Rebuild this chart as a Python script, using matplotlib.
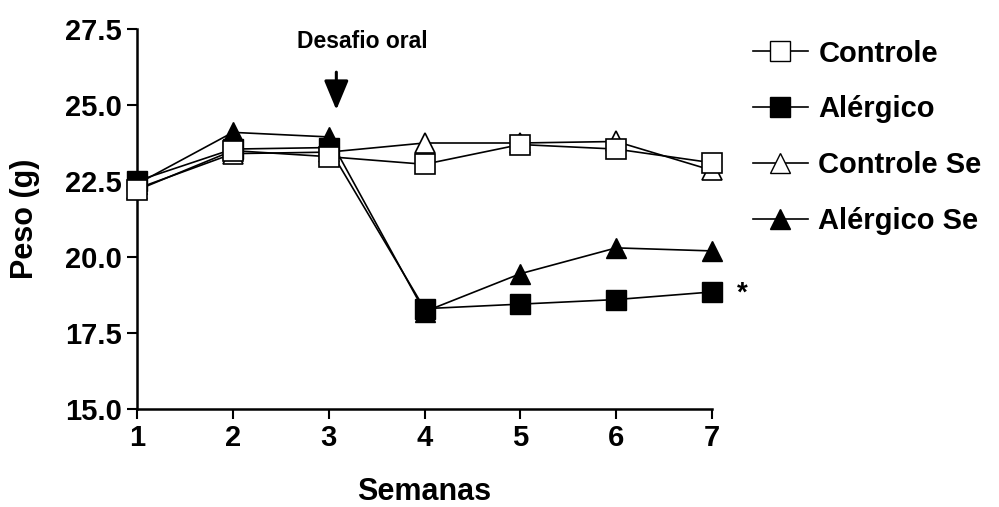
import matplotlib
matplotlib.use("Agg")
import matplotlib.pyplot as plt
from matplotlib.lines import Line2D

weeks = [1, 2, 3, 4, 5, 6, 7]
controle = [22.2, 23.5, 23.3, 23.05, 23.7, 23.55, 23.1]
alergico = [22.5, 23.55, 23.6, 18.3, 18.45, 18.6, 18.85]
controle_se = [22.25, 23.4, 23.45, 23.75, 23.75, 23.8, 22.85]
alergico_se = [22.4, 24.1, 23.95, 18.2, 19.45, 20.3, 20.2]
yticks = [15.0, 17.5, 20.0, 22.5, 25.0, 27.5]

plt.rcParams['font.family'] = ['Liberation Sans', 'DejaVu Sans']
plt.rcParams['font.weight'] = 'bold'

fig = plt.figure(figsize=(9.99, 5.07), dpi=100)
ax = fig.add_axes([137/999, 1-409/507, (712-137)/999, (409-29)/507])

ms = 14
lw = 1.2
kw = dict(clip_on=False)
ax.plot(weeks, controle_se, color='black', lw=lw, marker='^', ms=ms+1, mfc='white', mec='black', mew=1.2, zorder=3, **kw)
ax.plot(weeks, alergico_se, color='black', lw=lw, marker='^', ms=ms+1, mfc='black', mec='black', zorder=4, **kw)
ax.plot(weeks, alergico, color='black', lw=lw, marker='s', ms=ms, mfc='black', mec='black', zorder=5, **kw)
ax.plot(weeks, controle, color='black', lw=lw, marker='s', ms=ms, mfc='white', mec='black', mew=1.2, zorder=6, **kw)

ax.set_xlim(1, 7)
ax.set_ylim(15, 27.5)
ax.set_xticks(weeks)
ax.set_yticks(yticks)
ax.set_yticklabels([f"{v:.1f}" for v in yticks])
ax.tick_params(axis='both', direction='out', length=7, width=1.5, labelsize=21, pad=4)
for lab in ax.get_xticklabels() + ax.get_yticklabels():
    lab.set_fontweight('bold')
for s in ['top', 'right']:
    ax.spines[s].set_visible(False)
for s in ['left', 'bottom']:
    ax.spines[s].set_linewidth(1.8)

ax.set_xlabel('Semanas', fontsize=22, fontweight='bold', labelpad=18)
ax.set_ylabel('Peso (g)', fontsize=22, fontweight='bold', labelpad=18)

ax.annotate('', xy=(3.08, 24.84), xytext=(3.08, 26.08),
            arrowprops=dict(arrowstyle='-|>,head_width=0.75,head_length=1.8', color='black', lw=2.2,
                            shrinkA=0, shrinkB=0))
ax.text(3.35, 27.1, 'Desafio oral', fontsize=16.5, fontweight='bold', ha='center', va='center')
ax.text(7.32, 18.78, '*', fontsize=20, fontweight='bold', ha='center', va='center')

handles = [
    Line2D([], [], color='black', lw=lw, marker='s', ms=ms, mfc='white', mec='black'),
    Line2D([], [], color='black', lw=lw, marker='s', ms=ms, mfc='black', mec='black'),
    Line2D([], [], color='black', lw=lw, marker='^', ms=ms+1, mfc='white', mec='black'),
    Line2D([], [], color='black', lw=lw, marker='^', ms=ms+1, mfc='black', mec='black'),
]
labels = ['Controle', 'Alérgico', 'Controle Se', 'Alérgico Se']
fig.legend(handles, labels, loc='upper left', bbox_to_anchor=(741/999, 1-28/507),
           frameon=False, prop={'size': 21, 'weight': 'bold'}, handlelength=1.9,
           handletextpad=0.35, labelspacing=0.95, borderaxespad=0)

fig.savefig('out.png', dpi=100)
